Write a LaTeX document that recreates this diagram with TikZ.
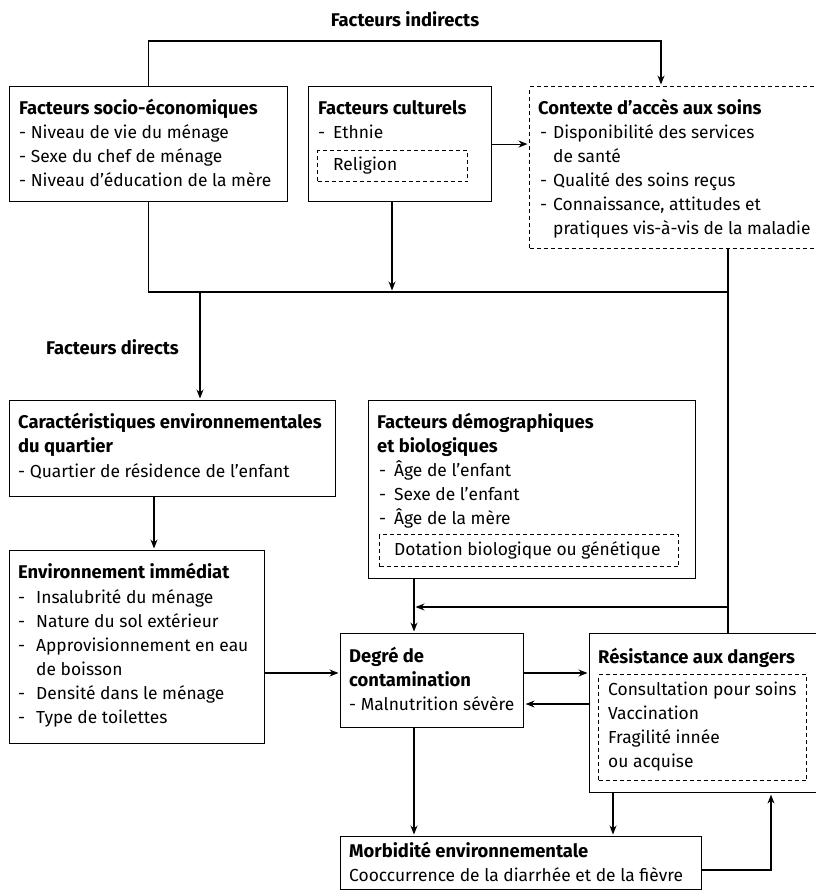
\documentclass[tikz,border=0pt]{standalone}
\usepackage{fontspec}
\setmainfont{Fira Sans}
\usetikzlibrary{arrows.meta,calc}
\newcommand\itm[1][15pt]{\makebox[#1][l]{-}}
\begin{document}
\begin{tikzpicture}[x=1pt,y=-1pt,
 box/.style={draw,line width=1.1pt,inner sep=0pt,anchor=north west},
 dbox/.style={box,dash pattern=on 4pt off 3pt},
 txt/.style={inner sep=0pt,anchor=base west,align=left,font=\fontsize{17.4}{24}\selectfont},
 ttl/.style={txt,font=\fontsize{18.4}{24}\selectfont\bfseries},
 conn/.style={line width=1.1pt},
 arr/.style={conn,-{Stealth[length=9pt,width=7pt]},shorten >=1.5pt},
]
\useasboundingbox (0,0) rectangle (816,892);

% boxes
\node[box,minimum width=278pt,minimum height=115pt] (socio) at (9,86) {};
\node[box,minimum width=183pt,minimum height=115pt] (cult) at (308,86) {};
\node[dbox,minimum width=150pt,minimum height=31pt] (relig) at (317,150) {};
\node[dbox,minimum width=292pt,minimum height=162pt] (ctx) at (529,86) {};
\node[box,minimum width=326pt,minimum height=96pt] (carac) at (9,400) {};
\node[box,minimum width=327pt,minimum height=178pt] (demog) at (368,400) {};
\node[dbox,minimum width=299pt,minimum height=32pt] (dot) at (379,534) {};
\node[box,minimum width=255pt,minimum height=193pt] (env) at (9,550) {};
\node[box,minimum width=183pt,minimum height=94pt] (degre) at (340,633) {};
\node[box,minimum width=232pt,minimum height=159pt] (resist) at (589,633) {};
\node[dbox,minimum width=208pt,minimum height=106pt] (resd) at (598,674) {};
\node[box,minimum width=361pt,minimum height=53pt] (morb) at (340,836) {};

% texts
\node[ttl,anchor=base] (tind) at (405,26) {Facteurs indirects};
\node[ttl] (tdir) at (46,354) {Facteurs directs};

\node[ttl] (socioT) at (19,114) {Facteurs socio-économiques};
\node[txt] (socioL) at (19,186) {- Niveau de vie du ménage\\- Sexe du chef de ménage\\- Niveau d’éducation de la mère};

\node[ttl] (cultT) at (318,114) {Facteurs culturels};
\node[txt] (cultL) at (318,138) {\itm Ethnie};
\node[txt] (religT) at (333,170) {Religion};

\node[ttl] (ctxT) at (538,114) {Contexte d’accès aux soins};
\node[txt] (ctxL) at (540,234) {\itm[13pt]Disponibilité des services\\\hspace*{13pt}de santé\\\itm[13pt]Qualité des soins reçus\\\itm[13pt]Connaissance, attitudes et\\\hspace*{13pt}pratiques vis-à-vis de la maladie};

\node[ttl] (caracT) at (18,452) {Caractéristiques environnementales\\du quartier};
\node[txt] (caracL) at (18,477) {- Quartier de résidence de l’enfant};

\node[ttl] (demogT) at (377,452) {Facteurs démographiques\\et biologiques};
\node[txt] (demogL) at (379,524) {\itm Âge de l’enfant\\\itm Sexe de l’enfant\\\itm Âge de la mère};
\node[txt] (dotT) at (394,555) {Dotation biologique ou génétique};

\node[ttl] (envT) at (18,578) {Environnement immédiat};
\node[txt] (envL) at (18,723) {\itm[18pt]Insalubrité du ménage\\\itm[18pt]Nature du sol extérieur\\\itm[18pt]Approvisionnement en eau\\\hspace*{18pt}de boisson\\\itm[18pt]Densité dans le ménage\\\itm[18pt]Type de toilettes};

\node[ttl] (degreT) at (349,686) {Degré de\\contamination};
\node[txt] (degreL) at (349,710) {- Malnutrition sévère};

\node[ttl] (resT) at (598,663) {Résistance aux dangers};
\node[txt] (resL) at (608,767) {Consultation pour soins\\Vaccination\\Fragilité innée\\ou acquise};

\node[ttl] (morbT) at (349,857) {Morbidité environnementale};
\node[txt] (morbL) at (349,881) {Cooccurrence de la diarrhée et de la fièvre};

% helper coordinates
\coordinate (tr) at (661,41);
\coordinate (jR) at (728,292);
\coordinate (cd) at (392,292);
\coordinate (dd) at (200,292);
\coordinate (cx) at (154,0);
\coordinate (mx) at (414,607);
\coordinate (ya) at (0,673);
\coordinate (yb) at (0,704);
\coordinate (rx) at (613,0);
\coordinate (mr) at (771,870);

% connectors
\draw[arr] (socio.north) |- (tr) -- (tr |- ctx.north);
\draw[arr] (cult.east) -- (cult.east -| ctx.west);
\draw[conn] (socio.south) |- (jR);
\draw[conn] (jR |- ctx.south) -- (jR |- resist.north);
\draw[arr] (cd |- cult.south) -- (cd);
\draw[arr] (dd) -- (dd |- carac.north);
\draw[arr] (cx |- carac.south) -- (cx |- env.north);
\draw[arr] (jR |- mx) -- (mx);
\draw[arr] (mx |- demog.south) -- (mx |- degre.north);
\draw[arr] (env.east |- ya) -- (degre.west |- ya);
\draw[arr] (degre.east |- ya) -- (resist.west |- ya);
\draw[arr] (resist.west |- yb) -- (degre.east |- yb);
\draw[arr] (mx |- degre.south) -- (mx |- morb.north);
\draw[arr] (rx |- resist.south) -- (rx |- morb.north);
\draw[arr] (morb.east |- mr) -| (mr |- resist.south);
\end{tikzpicture}
\end{document}
